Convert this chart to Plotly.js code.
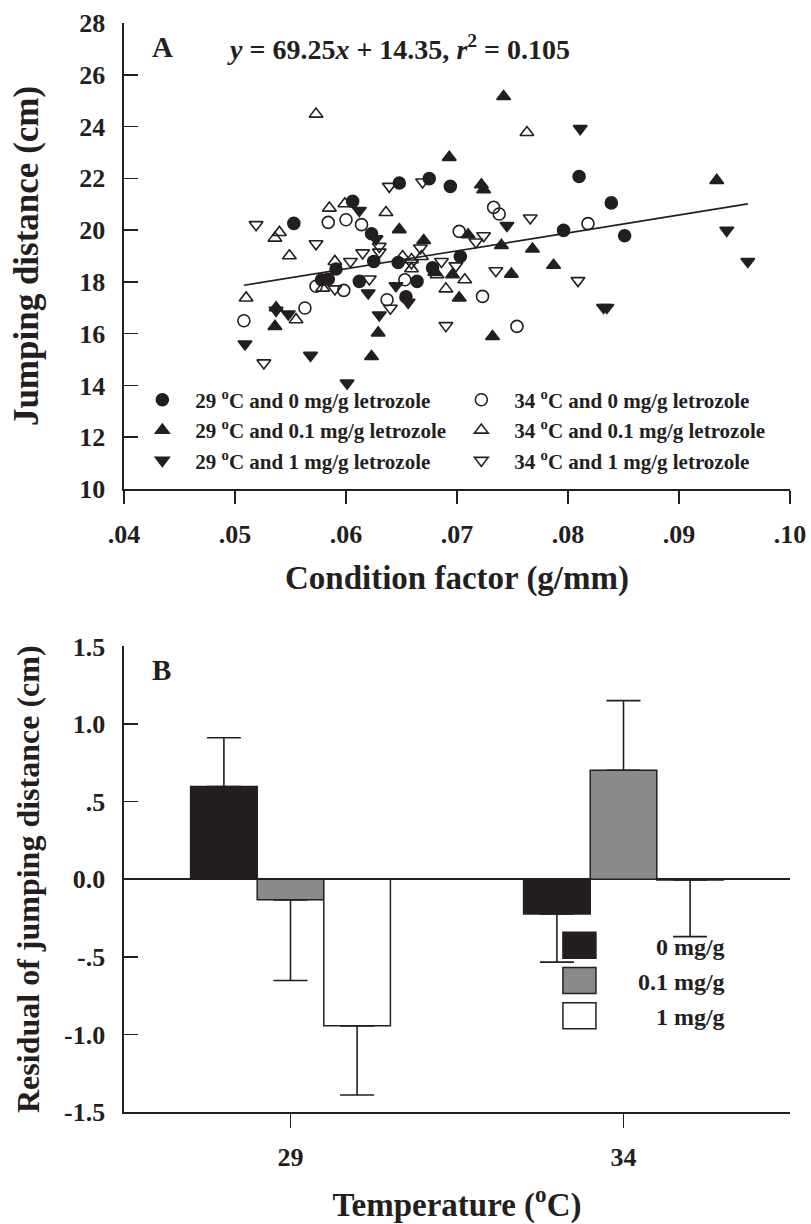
<!DOCTYPE html>
<html>
<head>
<meta charset="utf-8">
<script src="https://cdn.plot.ly/plotly-3.0.1.min.js"></script>
<style>html,body{margin:0;padding:0;background:#fff;}#chart{width:811px;height:1224px;}</style>
</head>
<body>
<div id="chart"></div>
<script>
// ---------- Panel A data (condition factor g/mm, jumping distance cm) ----------
const t29c0_x = [0.0553,0.0591,0.0578,0.0584,0.0648,0.0675,0.0694,0.0606,0.0623,0.0625,0.0647,0.0703,0.0678,0.0664,0.0654,0.0612,0.0810,0.0839,0.0796,0.0851];
const t29c0_y = [20.26,18.50,18.08,18.10,21.82,21.99,21.69,21.11,19.86,18.79,18.75,18.98,18.54,18.02,17.42,18.02,22.07,21.05,19.99,19.78];

const t29c01_x = [0.0537,0.0536,0.0742,0.0693,0.0722,0.0724,0.0648,0.0670,0.0680,0.0696,0.0702,0.0629,0.0623,0.0732,0.0749,0.0740,0.0710,0.0768,0.0934,0.0787];
const t29c01_y = [17.00,16.28,25.16,22.81,21.75,21.56,20.02,19.60,18.37,18.28,17.38,16.03,15.12,15.89,18.30,19.41,19.82,19.27,21.92,18.64];

const t29c1_x = [0.0537,0.0548,0.0509,0.0568,0.0612,0.0627,0.0656,0.0645,0.0630,0.0601,0.0745,0.0620,0.0811,0.0943,0.0962,0.0832,0.0835];
const t29c1_y = [16.90,16.76,15.60,15.16,20.76,19.66,17.21,17.85,16.72,14.09,20.18,17.57,23.92,19.99,18.79,17.01,17.01];

const t34c0_x = [0.0584,0.0508,0.0563,0.0573,0.0600,0.0614,0.0723,0.0653,0.0637,0.0754,0.0702,0.0733,0.0738,0.0598,0.0818];
const t34c0_y = [20.30,16.50,16.99,17.83,20.40,20.21,17.44,18.08,17.31,16.28,19.95,20.88,20.62,17.67,20.25];

const t34c01_x = [0.0573,0.0585,0.0540,0.0536,0.0549,0.0590,0.0579,0.0510,0.0555,0.0763,0.0599,0.0636,0.0651,0.0659,0.0659,0.0668,0.0682,0.0707,0.0690];
const t34c01_y = [24.48,20.85,19.91,19.69,19.01,18.79,17.76,17.38,16.54,23.77,21.02,20.68,18.98,18.86,18.51,18.98,18.28,18.08,17.73];

const t34c1_x = [0.0519,0.0573,0.0590,0.0526,0.0639,0.0669,0.0630,0.0630,0.0604,0.0615,0.0659,0.0667,0.0686,0.0699,0.0640,0.0690,0.0735,0.0724,0.0717,0.0766,0.0809,0.0621];
const t34c1_y = [20.21,19.47,17.73,14.87,21.69,21.86,19.37,19.15,18.79,19.12,18.73,19.31,18.79,18.62,16.98,16.31,18.43,19.78,19.54,20.47,18.05,18.11];

const fitSlope = 69.25, fitIntercept = 14.35, fitR2 = 0.105;

const xTickVals = [0.04,0.05,0.06,0.07,0.08,0.09,0.10];
const xTickText = [".04",".05",".06",".07",".08",".09",".10"];
const yTickValsA = [10,12,14,16,18,20,22,24,26,28];

// ---------- Panel B data (residual of jumping distance, cm) ----------
const temps = ["29","34"];
const res0 = [0.597,-0.224];   const err0 = [0.315,0.310];
const res01 = [-0.133,0.702];  const err01 = [0.520,0.449];
const res1 = [-0.945,-0.005];  const err1 = [0.445,0.365];
const yTickValsB = [1.5,1.0,0.5,0.0,-0.5,-1.0,-1.5];
const yTickTextB = ["1.5","1.0",".5","0.0","-.5","-1.0","-1.5"];

// ---------- build ----------
const INK = '#231f20';
const FONT = 'Liberation Serif, Times New Roman, serif';
const allX = [].concat(t29c0_x,t29c01_x,t29c1_x,t34c0_x,t34c01_x,t34c1_x);
const xMin = Math.min(...allX), xMax = Math.max(...allX);

function sc(x,y,name,symbol){
  return {type:'scatter',mode:'markers',x:x,y:y,name:name,xaxis:'x',yaxis:'y',legend:'legend',
    marker:{symbol:symbol,size:12,color:INK,line:{color:INK,width:1.6}},
    hoverinfo:'x+y'};
}
const deg = ' <sup>o</sup>C and ';
const traces = [
  sc(t29c0_x,t29c0_y,'29'+deg+'0 mg/g letrozole','circle'),
  sc(t34c0_x,t34c0_y,'34'+deg+'0 mg/g letrozole','circle-open'),
  sc(t29c01_x,t29c01_y,'29'+deg+'0.1 mg/g letrozole','triangle-up'),
  sc(t34c01_x,t34c01_y,'34'+deg+'0.1 mg/g letrozole','triangle-up-open'),
  sc(t29c1_x,t29c1_y,'29'+deg+'1 mg/g letrozole','triangle-down'),
  sc(t34c1_x,t34c1_y,'34'+deg+'1 mg/g letrozole','triangle-down-open'),
  {type:'scatter',mode:'lines',x:[xMin,xMax],y:[fitSlope*xMin+fitIntercept,fitSlope*xMax+fitIntercept],
   line:{color:INK,width:1.6},showlegend:false,xaxis:'x',yaxis:'y',hoverinfo:'skip'}
];
function bar(vals,errs,name,color){
  return {type:'bar',x:temps,y:vals,name:name,xaxis:'x2',yaxis:'y2',legend:'legend2',legendgroup:name,
    marker:{color:color,line:{color:INK,width:1.5}},
    error_y:{type:'data',symmetric:false,
      array:vals.map((v,i)=>v>=0?errs[i]:0),
      arrayminus:vals.map((v,i)=>v<0?errs[i]:0),
      color:INK,thickness:1.6,width:17}};
}
traces.push(bar(res0,err0,'0 mg/g',INK));
traces.push(bar(res01,err01,'0.1 mg/g','#898a8c'));
traces.push(bar(res1,err1,'1 mg/g','#ffffff'));

const tickFont = {family:FONT,size:26,color:INK,weight:'bold'};
const axBase = {showline:true,linecolor:INK,linewidth:1.6,showgrid:false,zeroline:false,
  tickcolor:INK,tickwidth:1.6,tickfont:tickFont};

const layout = {
  width:811,height:1224,
  margin:{l:124.3,r:20.7,t:23.3,b:111.7,pad:0},
  paper_bgcolor:'#fff',plot_bgcolor:'#fff',
  font:{family:FONT,color:INK},
  showlegend:true,
  barmode:'group',bargap:0.4,bargroupgap:0,
  xaxis:Object.assign({},axBase,{domain:[0,1],range:[0.04,0.10],tickvals:xTickVals,ticktext:xTickText,
    ticks:'outside',ticklen:13,ticklabelstandoff:8,anchor:'y',
    title:{text:'Condition factor (g/mm)',font:{family:FONT,size:33,color:INK,weight:'bold'},standoff:18}}),
  yaxis:Object.assign({},axBase,{domain:[0.5721,1],range:[10,28],tickvals:yTickValsA,
    ticks:'inside',ticklen:14,ticklabelstandoff:12,anchor:'x',
    title:{text:'Jumping distance (cm)',font:{family:FONT,size:35,color:INK,weight:'bold'},standoff:30}}),
  xaxis2:Object.assign({},axBase,{domain:[0,1],type:'category',range:[-0.5,1.5],
    ticks:'outside',ticklen:14,ticklabelstandoff:7,anchor:'y2',
    title:{text:'Temperature (<sup>o</sup>C)',font:{family:FONT,size:33,color:INK,weight:'bold'},standoff:29}}),
  yaxis2:Object.assign({},axBase,{domain:[0,0.4275],range:[-1.5,1.5],tickvals:yTickValsB,ticktext:yTickTextB,
    ticks:'inside',ticklen:14,ticklabelstandoff:12,anchor:'x2',
    zeroline:true,zerolinecolor:INK,zerolinewidth:1.6,
    title:{text:'Residual of jumping distance (cm)',font:{family:FONT,size:32,color:INK,weight:'bold'},standoff:15}}),
  legend:{orientation:'h',x:0.008,y:0.6725,xanchor:'left',yanchor:'top',xref:'paper',yref:'paper',
    entrywidth:248,entrywidthmode:'pixels',bgcolor:'rgba(0,0,0,0)',
    font:{family:FONT,size:21,color:INK,weight:'bold'},itemwidth:56,traceorder:'normal'},
  legend2:{orientation:'v',x:0.596,y:0.1734,xanchor:'left',yanchor:'top',xref:'paper',yref:'paper',
    bgcolor:'rgba(0,0,0,0)',font:{family:FONT,size:24,color:INK,weight:'bold'},itemwidth:107,tracegroupgap:1},
  annotations:[
    {xref:'x domain',yref:'y domain',x:0.0574,y:0.9485,xanchor:'center',yanchor:'middle',showarrow:false,
     text:'A',font:{family:FONT,size:29,color:INK,weight:'bold'}},
    {xref:'x domain',yref:'y domain',x:0.4125,y:0.947,xanchor:'center',yanchor:'middle',showarrow:false,
     text:'<i>y</i> = '+fitSlope.toFixed(2)+'<i>x</i> + '+fitIntercept.toFixed(2)+', <i>r</i><sup>2</sup> = '+fitR2.toFixed(3),
     font:{family:FONT,size:28,color:INK,weight:'bold'}},
    {xref:'x2 domain',yref:'y2 domain',x:0.0566,y:0.95,xanchor:'center',yanchor:'middle',showarrow:false,
     text:'B',font:{family:FONT,size:29,color:INK,weight:'bold'}}
  ]
};

// cosmetic touch-ups of the bar legend: wide swatches and right-aligned labels, as in the reference
function styleBarLegend(){
  try{
    var leg = document.querySelector('g.legend2');
    if(!leg) return;
    leg.querySelectorAll('g.legendpoints path').forEach(function(p){
      p.setAttribute('d','M16.5,13H-16.5V-13H16.5Z');
    });
    var texts = Array.prototype.slice.call(leg.getElementsByTagName('text'));
    if(!texts.length) return;
    var widths = texts.map(function(t){
      var w = 0;
      try{ w = t.getComputedTextLength(); }catch(e){}
      if(!w){ try{ w = t.getBBox().width; }catch(e){} }
      return w || 0;
    });
    var maxW = Math.max.apply(null, widths);
    texts.forEach(function(t,i){
      t.setAttribute('transform','translate(' + (maxW - widths[i]).toFixed(1) + ',0)');
    });
  }catch(e){}
}
const gd = document.getElementById('chart');
Plotly.newPlot(gd,traces,layout,{staticPlot:true,displayModeBar:false}).then(function(){
  styleBarLegend();
  if(gd.on) gd.on('plotly_afterplot', styleBarLegend);
  setTimeout(styleBarLegend, 30);
  setTimeout(styleBarLegend, 300);
});
</script>
</body>
</html>
